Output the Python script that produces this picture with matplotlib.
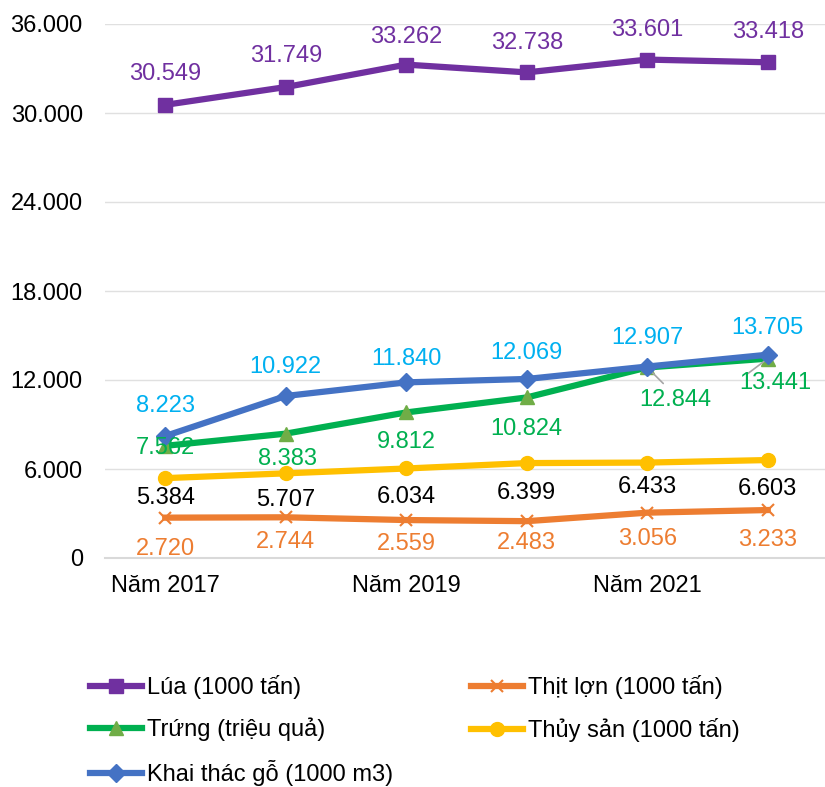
import matplotlib
matplotlib.use("Agg")
import matplotlib.pyplot as plt

years = ["Năm 2017", "Năm 2018", "Năm 2019", "Năm 2020", "Năm 2021", "Năm 2022"]
lua = [30549, 31749, 33262, 32738, 33601, 33418]
thit_lon = [2720, 2744, 2559, 2483, 3056, 3233]
trung = [7562, 8383, 9812, 10824, 12844, 13441]
thuy_san = [5384, 5707, 6034, 6399, 6433, 6603]
khai_thac = [8223, 10922, 11840, 12069, 12907, 13705]
yticks = [0, 6000, 12000, 18000, 24000, 30000, 36000]

# label offsets in pixels (visual centre relative to point)
off_lua = [(0, 33), (0, 33), (0, 30), (0, 31), (0, 32), (0, 32)]
off_khai = [(0, 32), (0, 31), (0, 25), (0, 28), (0, 31), (0, 29)]
off_thuy = [(0, -18), (0, -25), (0, -27), (0, -28), (0, -22), (0, -27)]
off_thit = [(0, -29), (0, -23), (0, -22), (0, -20), (0, -24), (0, -28)]
off_trung = [(0, 0), (2, -23), (0, -28), (0, -30), (28, -31), (8, -22)]

plt.rcParams['font.family'] = ['Liberation Sans', 'DejaVu Sans']

def fmt(v):
    return f"{v:,}".replace(",", ".")

fig = plt.figure(figsize=(8.25, 7.87), dpi=100)
ax = fig.add_axes([105/825, 1-558/787, 723/825, (558-24)/787])
x = list(range(len(years)))

LW = 4.5
ax.plot(x, lua, color="#7030A0", lw=LW, marker="s", ms=10, mfc="#7030A0", mec="#7030A0",
        label="Lúa (1000 tấn)", zorder=3)
ax.plot(x, thit_lon, color="#ED7D31", lw=LW, marker="x", ms=9, mew=1.5, mec="#ED7D31",
        label="Thịt lợn (1000 tấn)", zorder=3)
ax.plot(x, trung, color="#00B050", lw=LW, marker="^", ms=10, mfc="#70AD47", mec="#70AD47",
        label="Trứng (triệu quả)", zorder=3)
ax.plot(x, thuy_san, color="#FFC000", lw=LW, marker="o", ms=10, mfc="#FFC000", mec="#FFC000",
        label="Thủy sản (1000 tấn)", zorder=3)
ax.plot(x, khai_thac, color="#4472C4", lw=LW, marker="D", ms=9, mfc="#4472C4", mec="#4472C4",
        label="Khai thác gỗ (1000 m3)", zorder=4)

FS = 17
CORR = -2

def label_series(vals, offs, color):
    for i, v in enumerate(vals):
        dx, dy = offs[i]
        ax.annotate(fmt(v), (i, v), xytext=(dx, dy + CORR), textcoords="offset pixels",
                    ha="center", va="center", color=color, fontsize=FS, zorder=5)

label_series(lua, off_lua, "#7030A0")
label_series(khai_thac, off_khai, "#00B0F0")
label_series(thuy_san, off_thuy, "black")
label_series(thit_lon, off_thit, "#ED7D31")
label_series(trung, off_trung, "#00B050")

# leader lines for crowded labels
ax.annotate("", (4, trung[4]), xytext=(16, -16), textcoords="offset pixels",
            arrowprops=dict(arrowstyle="-", color="#A6A6A6", lw=1.2, shrinkA=0, shrinkB=3))
ax.annotate("", (5, trung[5]), xytext=(-20, -15), textcoords="offset pixels",
            arrowprops=dict(arrowstyle="-", color="#A6A6A6", lw=1.2, shrinkA=0, shrinkB=3))

ax.set_xlim(-0.5, 5.5)
ax.set_ylim(0, 36000)
ax.set_yticks(yticks)
ax.set_yticklabels([fmt(v) for v in yticks], fontsize=FS)
ax.set_xticks(x)
ax.set_xticklabels([y if i % 2 == 0 else "" for i, y in enumerate(years)], fontsize=17)
ax.tick_params(axis="y", length=0, pad=16)
ax.tick_params(axis="x", length=0, pad=12)
ax.grid(axis="y", color="#E0E0E0", lw=1, zorder=0)
for s in ["top", "right", "left"]:
    ax.spines[s].set_visible(False)
ax.spines["bottom"].set_color("#D9D9D9")
ax.spines["bottom"].set_linewidth(1.5)
ax.set_axisbelow(True)

handles, labels = ax.get_legend_handles_labels()
order = [0, 2, 4, 1, 3]
leg = fig.legend([handles[i] for i in order], [labels[i] for i in order], ncol=2,
                 loc="upper left", bbox_to_anchor=(69/825, 1-654/787), frameon=False,
                 fontsize=17, handlelength=2.2, columnspacing=3.3, labelspacing=0.79,
                 handletextpad=0.2)

fig.savefig("out.png", dpi=100)
